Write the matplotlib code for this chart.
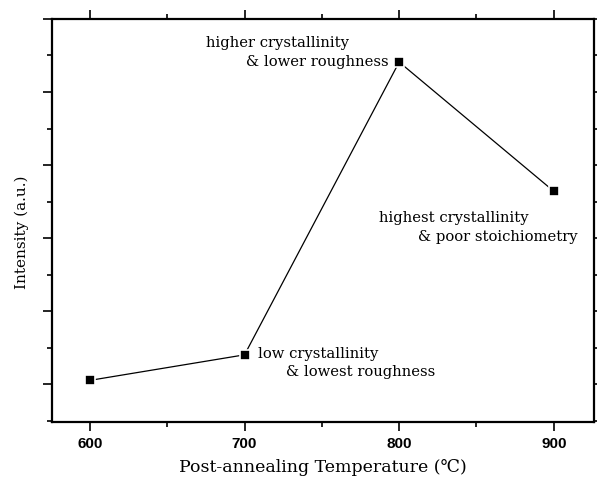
import numpy as np
import matplotlib
matplotlib.use("Agg")
import matplotlib.pyplot as plt
from matplotlib.ticker import MultipleLocator, NullFormatter

# post-annealing temperature vs. XRD intensity (arbitrary units)
temps = [600, 700, 800, 900]
intensity = [1.05, 1.40, 5.41, 3.64]

notes = [
    ("higher crystallinity", 767.5, 5.67, "right"),
    ("& lower roughness", 793.5, 5.41, "right"),
    ("low crystallinity", 709, 1.41, "left"),
    ("& lowest roughness", 727, 1.16, "left"),
    ("highest crystallinity", 787, 3.27, "left"),
    ("& poor stoichiometry", 812, 3.02, "left"),
]

SERIF = ["DejaVu Serif", "DejaVu Sans"]

fig = plt.figure(figsize=(5.97, 4.82), dpi=100)
ax = fig.add_axes([0.0871, 0.1245, 0.9079, 0.8361])

ax.plot(temps, intensity, color="black", lw=0.9, marker="s", ms=7,
        mfc="black", mec="white", mew=1.2)

ax.set_xlim(575.5, 926)
ax.set_ylim(0.48, 6.0)
ax.xaxis.set_major_locator(MultipleLocator(100))
ax.xaxis.set_minor_locator(MultipleLocator(50))
ax.yaxis.set_major_locator(MultipleLocator(1))
ax.yaxis.set_minor_locator(MultipleLocator(0.5))
ax.yaxis.set_major_formatter(NullFormatter())

ax.tick_params(which="both", direction="out", top=True, right=True, width=1.2)
ax.tick_params(which="major", length=6.5)
ax.tick_params(which="minor", length=3.5)
ax.tick_params(axis="x", labelsize=11, pad=4)
for lab in ax.get_xticklabels():
    lab.set_family("Liberation Sans")
    lab.set_fontweight("bold")
for sp in ax.spines.values():
    sp.set_linewidth(1.6)

for txt, x, y, ha in notes:
    ax.text(x, y, txt, ha=ha, va="center", fontsize=10.6, family=SERIF)

ax.set_xlabel("Post-annealing Temperature (\u2103)", fontsize=12.5,
              family=SERIF, labelpad=6)
ax.set_ylabel("Intensity (a.u.)", fontsize=11, family=SERIF)
ax.yaxis.set_label_coords(-0.043, 0.47)

fig.savefig("out.png", dpi=100)
